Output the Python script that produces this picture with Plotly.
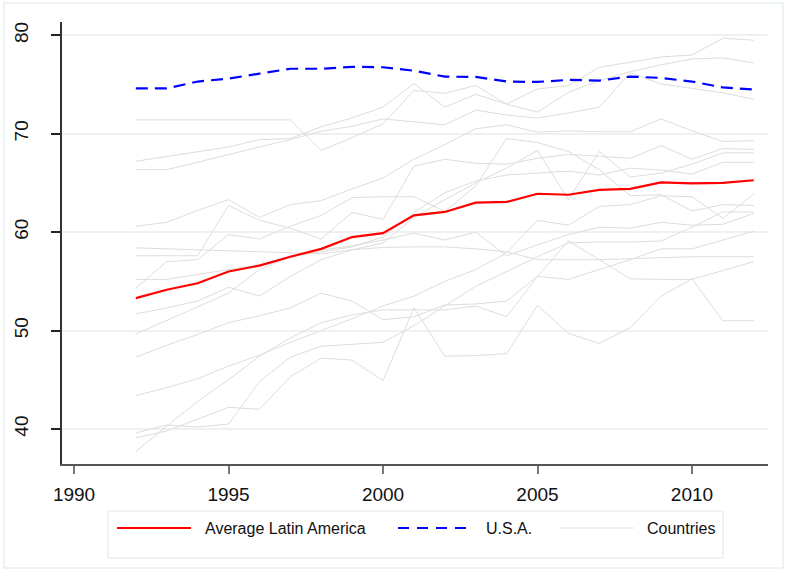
import plotly.graph_objects as go

years = list(range(1992, 2013))

usa = [74.6, 74.6, 75.3, 75.6, 76.1, 76.6, 76.6, 76.8, 76.75, 76.4, 75.8,
       75.77, 75.3, 75.26, 75.47, 75.4, 75.8, 75.67, 75.3, 74.7, 74.5]
latin_avg = [53.3, 54.15, 54.8, 56.0, 56.6, 57.5, 58.3, 59.5, 59.9, 61.7, 62.05,
             63.0, 63.07, 63.9, 63.8, 64.3, 64.4, 65.06, 64.96, 65.0, 65.27]

country_01 = [71.4, 71.4, 71.4, 71.4, 71.4, 71.4, 68.3, 69.6, 71.0, 74.4, 74.1,
              74.9, 73.0, 74.55, 74.9, 76.75, 77.26, 77.8, 78.0, 79.7, 79.5]
country_02 = [67.2, 67.7, 68.2, 68.65, 69.4, 69.5, 70.7, 71.6, 72.7, 75.1, 72.7,
              74.0, 73.0, 72.2, 74.2, 75.4, 76.3, 77.0, 77.6, 77.7, 77.2]
country_03 = [66.35, 66.35, 67.1, 67.9, 68.65, 69.4, 70.25, 70.75, 71.5, 71.2, 70.9,
              72.4, 71.9, 71.6, 72.1, 72.7, 76.2, 75.06, 74.6, 74.15, 73.5]
country_04 = [60.6, 61.0, 62.2, 63.3, 61.5, 62.8, 63.2, 64.4, 65.5, 67.4, 68.9,
              70.5, 70.9, 70.15, 70.3, 70.2, 70.2, 71.5, 70.3, 69.2, 69.3]
country_05 = [58.4, 58.3, 58.2, 58.1, 58.0, 57.9, 57.8, 58.2, 58.45, 58.5, 58.5,
              58.3, 58.0, 57.2, 57.2, 57.2, 57.3, 57.4, 57.5, 57.5, 57.5]
country_06 = [57.6, 57.6, 57.6, 62.7, 61.2, 60.4, 59.3, 62.0, 61.3, 66.7, 67.4,
              67.0, 66.9, 67.5, 67.9, 67.7, 67.5, 68.8, 67.4, 68.5, 68.4]
country_07 = [55.2, 55.2, 55.7, 56.2, 56.7, 57.5, 58.2, 58.6, 59.2, 59.9, 59.2,
              60.0, 57.6, 58.7, 59.75, 60.5, 60.4, 61.0, 60.7, 60.8, 61.9]
country_08 = [54.3, 57.0, 57.2, 59.75, 59.3, 60.6, 61.7, 63.5, 63.6, 63.6, 62.1,
              64.7, 69.5, 69.1, 68.2, 66.35, 63.7, 63.8, 62.15, 62.8, 62.7]
country_09 = [51.7, 52.3, 53.0, 54.4, 53.5, 55.5, 57.2, 58.2, 58.9, 61.5, 63.3,
              65.0, 66.5, 68.3, 63.3, 68.2, 65.6, 66.0, 66.9, 68.05, 68.05]
country_10 = [49.65, 51.0, 52.4, 53.8, 56.2, 57.5, 58.0, 58.5, 59.5, 62.0, 64.0,
              65.2, 65.8, 66.0, 66.2, 65.8, 66.5, 66.3, 65.9, 67.1, 67.1]
country_11 = [47.3, 48.5, 49.6, 50.8, 51.5, 52.3, 53.8, 53.0, 51.1, 51.4, 52.6,
              52.7, 53.0, 55.5, 55.2, 56.2, 57.2, 58.3, 58.3, 59.2, 60.1]
country_12 = [43.4, 44.2, 45.1, 46.4, 47.5, 48.8, 50.0, 51.2, 52.5, 53.5, 55.0,
              56.2, 57.9, 61.2, 60.7, 62.6, 62.8, 63.7, 63.6, 61.4, 63.9]
country_13 = [39.6, 40.4, 40.2, 40.5, 44.8, 47.3, 48.4, 48.6, 48.8, 50.5, 52.5,
              54.5, 56.0, 57.5, 58.9, 59.0, 59.0, 59.1, 60.5, 62.05, 62.05]
country_14 = [39.1, 39.8, 41.0, 42.2, 42.0, 45.3, 47.2, 47.0, 44.9, 52.3, 47.4,
              47.45, 47.65, 52.56, 49.7, 48.7, 50.3, 53.5, 55.25, 51.0, 51.0]
country_15 = [37.7, 40.3, 42.8, 45.0, 47.4, 49.25, 50.8, 51.6, 52.1, 52.1, 52.1,
              52.5, 51.4, 55.5, 59.1, 57.2, 55.25, 55.2, 55.2, 56.1, 57.0]

countries = [country_01, country_02, country_03, country_04, country_05,
             country_06, country_07, country_08, country_09, country_10,
             country_11, country_12, country_13, country_14, country_15]

x_ticks = [1990, 1995, 2000, 2005, 2010]
y_ticks = [40, 50, 60, 70, 80]
legend_labels = ["Average Latin America", "U.S.A.", "Countries"]

FONT = "Liberation Sans, Arial, sans-serif"
GREY = "#dddddd"
RED = "#ff0000"
BLUE = "#0000ff"

fig = go.Figure()
for c in countries:
    fig.add_trace(go.Scatter(x=years, y=c, mode="lines",
                             line=dict(color=GREY, width=1),
                             showlegend=False, hoverinfo="skip"))
fig.add_trace(go.Scatter(x=years, y=latin_avg, mode="lines",
                         line=dict(color=RED, width=2.2), showlegend=False))
fig.add_trace(go.Scatter(x=years, y=usa, mode="lines",
                         line=dict(color=BLUE, width=2.2, dash="12px,7px"),
                         showlegend=False))

W, H = 787, 571
L, R, T, B = 62, 19, 22, 107
pw, ph = W - L - R, H - T - B


def px(xp):
    return (xp - L) / pw


def py(yp):
    return (H - B - yp) / ph


shapes = []
# outer graph border
shapes.append(dict(type="rect", xref="paper", yref="paper",
                   x0=px(4), x1=px(783), y0=py(3), y1=py(568),
                   line=dict(color="#e8eef0", width=1.5), layer="below"))
# legend box
shapes.append(dict(type="rect", xref="paper", yref="paper",
                   x0=px(108), x1=px(723), y0=py(511), y1=py(558),
                   line=dict(color="#e4eaec", width=1.2), fillcolor="white"))
ly = py(528)
shapes.append(dict(type="line", xref="paper", yref="paper",
                   x0=px(117), x1=px(191), y0=ly, y1=ly,
                   line=dict(color=RED, width=2.2)))
shapes.append(dict(type="line", xref="paper", yref="paper",
                   x0=px(398), x1=px(471), y0=ly, y1=ly,
                   line=dict(color=BLUE, width=2.2, dash="11px,8px")))
shapes.append(dict(type="line", xref="paper", yref="paper",
                   x0=px(560), x1=px(634), y0=ly, y1=ly,
                   line=dict(color="#e2e2e2", width=1.2)))

annotations = []
for label, xs in zip(legend_labels, [203, 484, 645]):
    annotations.append(dict(text=label, xref="paper", yref="paper",
                            x=px(xs), y=ly, xanchor="left", yanchor="middle",
                            showarrow=False,
                            font=dict(family=FONT, size=16, color="#111111")))

fig.update_layout(
    width=W, height=H,
    margin=dict(l=L, r=R, t=T, b=B, autoexpand=False),
    paper_bgcolor="white", plot_bgcolor="white",
    shapes=shapes, annotations=annotations,
    showlegend=False,
    font=dict(family=FONT, color="#111111"),
)
fig.update_xaxes(
    range=[1989.61, 2012.46], tickvals=x_ticks,
    ticks="outside", ticklen=8, tickwidth=1.5, tickcolor="#777777",
    showline=True, linecolor="#555555", linewidth=1.5,
    showgrid=False, zeroline=False, automargin=False,
    tickfont=dict(family=FONT, size=19, color="#111111"),
    ticklabelstandoff=4,
)
fig.update_yaxes(
    range=[36.44, 81.35], tickvals=y_ticks,
    ticks="outside", ticklen=9, tickwidth=1.5, tickcolor="#222222",
    showline=True, linecolor="#333333", linewidth=1.5,
    showgrid=True, gridcolor="#edf1f3", gridwidth=2,
    zeroline=False, tickangle=-90, automargin=False,
    tickfont=dict(family=FONT, size=19, color="#111111"),
    ticklabelstandoff=16,
)

fig.write_html("out.html",
               config={"displayModeBar": False},
               post_script="document.body.style.margin='0';"
                           "document.body.style.padding='0';")
